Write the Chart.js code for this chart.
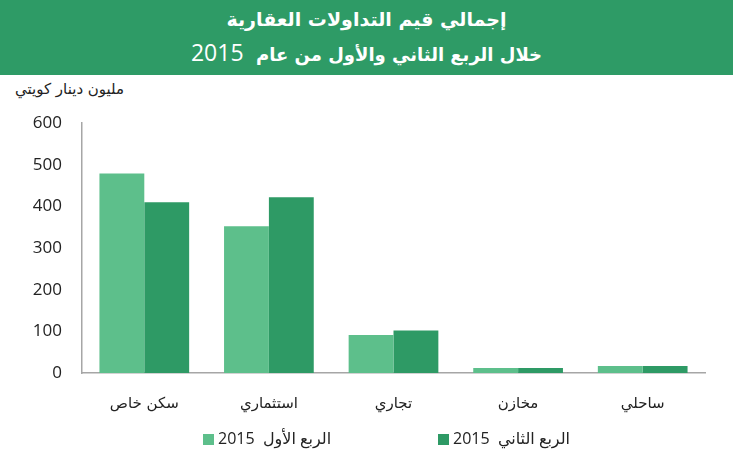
<!DOCTYPE html>
<html>
<head>
<meta charset="utf-8">
<script src="https://cdn.jsdelivr.net/npm/chart.js@4"></script>
<style>
  html, body { margin: 0; padding: 0; background: #fff; }
  body { width: 733px; height: 450px; position: relative; overflow: hidden; font-family: "DejaVu Sans", sans-serif; }
  #header {
    position: absolute; left: 0; top: 0; width: 733px; height: 75px;
    background: #2e9b66; color: #fff; text-align: center;
  }
  #header .l1 { position: absolute; left: 0; right: 0; top: 6px; font-size: 19px; font-weight: bold; line-height: 26px; }
  #header .l2 { position: absolute; left: 0; right: 0; top: 38px; font-size: 18px; font-weight: bold; line-height: 28px; }
  #header .yr { font-family: "Open Sans", sans-serif; font-weight: normal; font-size: 23px; }
  #unit { position: absolute; left: 15px; top: 80px; font-size: 15px; color: #222; direction: rtl; }
  #wrap { position: absolute; left: 0; top: 75px; width: 733px; height: 375px; }
  #legend { position: absolute; left: 0; top: 427px; width: 733px; height: 20px; font-size: 16px; color: #222; }
  .item { position: absolute; top: 0; white-space: nowrap; }
  .item .sw { display: inline-block; width: 11px; height: 11px; vertical-align: -1px; margin-right: 4px; }
  .item .txt { font-family: "Open Sans", "DejaVu Sans", sans-serif; }
</style>
</head>
<body>
<div id="header" dir="rtl">
  <div class="l1">إجمالي قيم التداولات العقارية</div>
  <div class="l2">خلال الربع الثاني والأول من عام&nbsp; <span class="yr">2015</span></div>
</div>
<div id="unit">مليون دينار كويتي</div>
<div id="wrap"><canvas id="chart" width="733" height="375"></canvas></div>
<div id="legend"></div>
<script>
// categories (left to right as drawn)
const CATEGORIES = ["سكن خاص", "استثماري", "تجاري", "مخازن", "ساحلي"];
const SERIES_NAMES = ["الربع الأول", "الربع الثاني"];
const SERIES_YEAR = "2015";
const Q1_VALUES = [479, 352, 91, 12, 17];
const Q2_VALUES = [410, 422, 102, 12, 17];
const Y_TICKS = [0, 100, 200, 300, 400, 500, 600];

const COLORS = ["#5dbf8b", "#2e9a65"];
const AXIS_GRAY = "#a6a6a6";

// legend (html, positions)
const legendPos = [203, 438];
document.getElementById("legend").innerHTML = SERIES_NAMES.map((name, i) =>
  `<span class="item" style="left:${legendPos[i]}px"><span class="sw" style="background:${COLORS[i]}"></span>` +
  `<span class="txt">${SERIES_YEAR}&nbsp; ${name}</span></span>`
).join("");

new Chart(document.getElementById("chart"), {
  type: "bar",
  data: {
    labels: CATEGORIES,
    datasets: [
      { label: SERIES_NAMES[0], data: Q1_VALUES, backgroundColor: COLORS[0] },
      { label: SERIES_NAMES[1], data: Q2_VALUES, backgroundColor: COLORS[1] },
    ]
  },
  options: {
    responsive: false,
    animation: false,
    layout: { padding: { top: 48, right: 28, bottom: 27, left: 0 } },
    plugins: { legend: { display: false }, tooltip: { enabled: false } },
    datasets: { bar: { categoryPercentage: 0.72, barPercentage: 1.0 } },
    scales: {
      x: {
        grid: { display: false, drawTicks: false },
        border: { color: AXIS_GRAY, width: 1.5 },
        ticks: { color: "#222", padding: 22, font: { family: "DejaVu Sans", size: 15 } },
        afterFit: s => { s.height = 50; }
      },
      y: {
        min: Y_TICKS[0],
        max: Y_TICKS[Y_TICKS.length - 1],
        afterBuildTicks: s => { s.ticks = Y_TICKS.map(v => ({ value: v })); },
        grid: { display: false, drawTicks: false },
        border: { color: AXIS_GRAY, width: 1.5 },
        ticks: { color: "#222", padding: 20, font: { family: "Open Sans", size: 17 } },
        afterFit: s => { s.width = 82; }
      }
    }
  }
});
</script>
</body>
</html>
